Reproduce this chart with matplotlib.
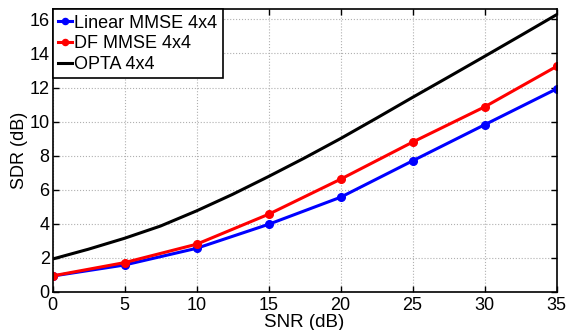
import matplotlib
matplotlib.use('agg')
import matplotlib.pyplot as plt

snr = [0, 5, 10, 15, 20, 25, 30, 35]
linear_mmse = [0.92, 1.57, 2.55, 3.96, 5.55, 7.69, 9.81, 11.92]
df_mmse = [0.93, 1.71, 2.79, 4.55, 6.61, 8.79, 10.86, 13.24]

snr_opta = [0, 2.5, 5, 7.5, 10, 12.5, 15, 17.5, 20, 22.5, 25, 27.5, 30, 32.5, 35]
opta = [1.92, 2.5, 3.14, 3.86, 4.75, 5.72, 6.77, 7.86, 9.0, 10.2, 11.42,
        12.62, 13.83, 15.05, 16.28]

xticks = [0, 5, 10, 15, 20, 25, 30, 35]
yticks = [0, 2, 4, 6, 8, 10, 12, 14, 16]


def main():
    plt.rcParams['font.family'] = ['Liberation Sans', 'DejaVu Sans']
    plt.rcParams['font.size'] = 13
    fig = plt.figure(figsize=(5.67, 3.30), dpi=100)
    ax = fig.add_axes([0.0926, 0.116, 0.889, 0.856])

    ax.plot(snr, linear_mmse, color='#0000ff', lw=2.2, marker='o',
            markersize=5.5, label='Linear MMSE 4x4')
    ax.plot(snr, df_mmse, color='#ff0000', lw=2.2, marker='o',
            markersize=5.5, label='DF MMSE 4x4')
    ax.plot(snr_opta, opta, color='black', lw=2.2, label='OPTA 4x4')

    ax.set_xlim(0, 35)
    ax.set_ylim(0, 16.6)
    ax.set_xticks(xticks)
    ax.set_yticks(yticks)
    ax.grid(True, color='#b0b0b0', linestyle=':', linewidth=0.8)
    ax.tick_params(direction='in', top=True, right=True, length=4,
                   width=1, labelsize=13)
    ax.tick_params(axis='x', pad=4)
    ax.tick_params(axis='y', pad=2)
    for s in ax.spines.values():
        s.set_linewidth(1.2)
    ax.set_xlabel('SNR (dB)', labelpad=0, fontsize=13.5)
    ax.set_ylabel('SDR (dB)', labelpad=1, fontsize=13)

    leg = ax.legend(loc='upper left', borderaxespad=0, handlelength=0.8,
                    handletextpad=0.1, borderpad=0.3, labelspacing=0.2,
                    fancybox=False, framealpha=1, edgecolor='black',
                    fontsize=13, markerscale=0.8)
    leg.get_frame().set_linewidth(1.2)

    fig.savefig('out.png', dpi=100)


if __name__ == '__main__':
    main()
